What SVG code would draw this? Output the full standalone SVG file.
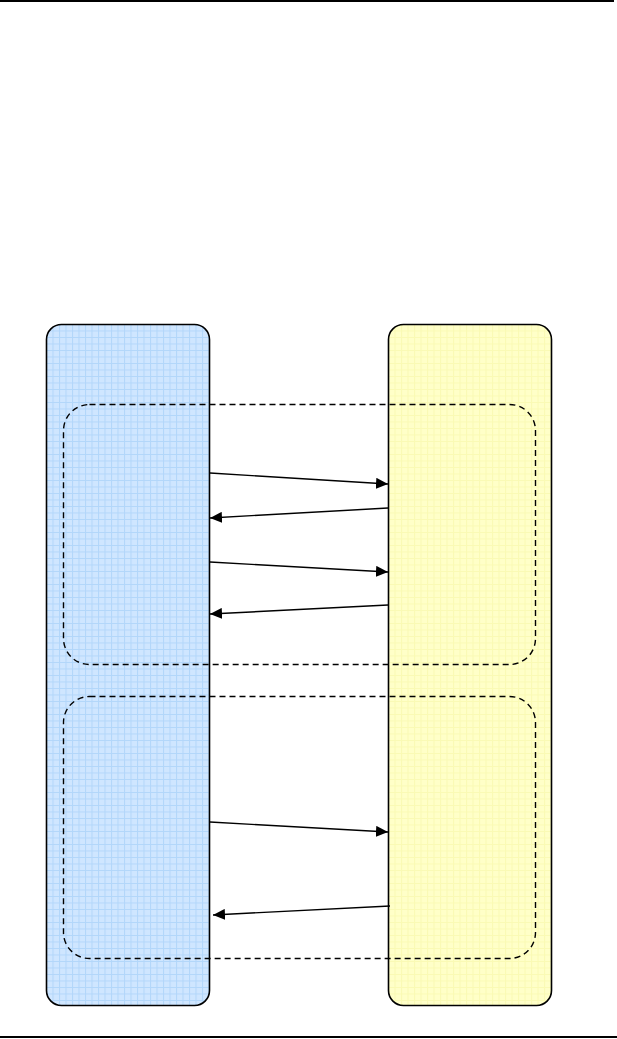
<svg xmlns="http://www.w3.org/2000/svg" width="617" height="1039" viewBox="0 0 617 1039">
<style>
.lane{stroke:#000;stroke-width:1.6}
.grp{fill:none;stroke:#000;stroke-width:1.4;stroke-dasharray:6,4}
.msg{stroke:#000;stroke-width:1.4;fill:none;marker-end:url(#ah)}
.rule{stroke:#000;stroke-width:2}
</style>
<defs>
<marker id="ah" viewBox="0 0 12 11" refX="12" refY="5.5" markerWidth="12" markerHeight="11" markerUnits="userSpaceOnUse" orient="auto">
<path d="M0,0 L12,5.5 L0,11 z" fill="#000"/>
</marker>
<pattern id="gb" width="6.5" height="6.5" patternUnits="userSpaceOnUse" x="46" y="324">
<rect width="6.5" height="6.5" fill="#cfe6ff"/>
<path d="M0,0.5 H6.5 M0.5,0 V6.5" stroke="#b2d6fa" stroke-width="1"/>
</pattern>
<pattern id="gy" width="6.5" height="6.5" patternUnits="userSpaceOnUse" x="388" y="324">
<rect width="6.5" height="6.5" fill="#ffffc8"/>
<path d="M0,0.5 H6.5 M0.5,0 V6.5" stroke="#fafab4" stroke-width="1"/>
</pattern>
</defs>
<line class="rule" x1="0" y1="1" x2="614" y2="1"/>
<line class="rule" x1="0" y1="1037" x2="617" y2="1037"/>
<g id="laneA"><rect class="lane" x="46.5" y="324.5" width="163" height="681" rx="15" fill="url(#gb)"/></g>
<g id="laneB"><rect class="lane" x="388.5" y="324.5" width="163" height="681" rx="15" fill="url(#gy)"/></g>
<g id="group1"><rect class="grp" x="63.5" y="404.5" width="472" height="260" rx="26"/></g>
<g id="group2"><rect class="grp" x="63.5" y="696.5" width="472" height="262" rx="26"/></g>
<g id="connectors">
<line class="msg" x1="210" y1="473" x2="388" y2="484"/>
<line class="msg" x1="388" y1="508" x2="210" y2="518"/>
<line class="msg" x1="210" y1="562" x2="388" y2="572"/>
<line class="msg" x1="388" y1="605" x2="210" y2="614"/>
<line class="msg" x1="210" y1="822" x2="388" y2="832"/>
<line class="msg" x1="390" y1="906" x2="213" y2="915"/>
</g>
</svg>
